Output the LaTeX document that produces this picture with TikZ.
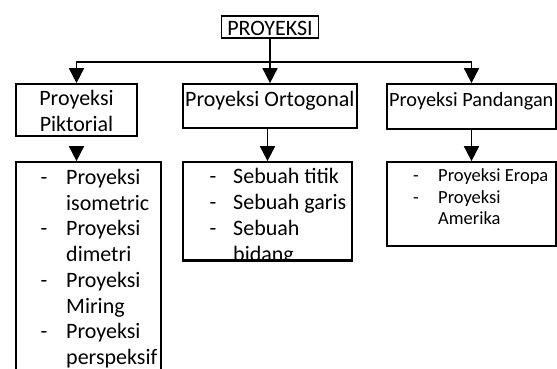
\documentclass[tikz,border=0pt]{standalone}
\usepackage{fontspec}
\setmainfont{Carlito}
\usetikzlibrary{arrows.meta}
\begin{document}
\begin{tikzpicture}[x=1pt,y=-1pt,
  box/.style={draw,line width=1.7pt,inner sep=0pt,minimum width=#1},
  conn/.style={line width=1.7pt},
  arr/.style={line width=1.7pt,-{Triangle[width=15pt,length=15pt]}},
  big/.style={inner sep=0pt,font=\fontsize{22}{26}\selectfont},
  small/.style={inner sep=0pt,font=\fontsize{18.5}{22}\selectfont}]
\clip (0,0) rectangle (557,368);
\fill[white] (0,0) rectangle (557,368);
% boxes
\node[box=97pt,minimum height=22pt] (root) at (270,27) {};
\node[box=121pt,minimum height=52pt] (pt) at (76.5,110) {};
\node[box=174pt,minimum height=44pt] (ot) at (270,106) {};
\node[box=169pt,minimum height=45pt] (pd) at (471.5,106.5) {};
\node[box=145pt,minimum height=228pt] (pl) at (88.5,276) {};
\node[box=169pt,minimum height=98pt] (ol) at (267.5,211) {};
\node[box=169pt,minimum height=84pt] (dl) at (471.5,204) {};
% connectors
\coordinate (bar) at (270,62);
\draw[conn] (root.south) -- (bar);
\draw[arr] (bar) -| (pt.north);
\draw[arr] (bar) -| (pd.north);
\draw[arr] (bar) -- (ot.north);
\draw[arr] ([yshift=-10pt]pt.south) -- (pt.south |- pl.north);
\draw[arr] (ot.south -| ol.north) -- (ol.north);
\draw[arr] (pd.south) -- (dl.north);
% texts
\node[big,anchor=base] (t0) at (270,35) {PROYEKSI};
\node[big,anchor=base] (t1) at (76.5,105) {Proyeksi};
\node[big,anchor=base] (t2) at (76.5,131) {Piktorial};
\node[big,anchor=base west] (t3) at (185,106) {Proyeksi Ortogonal};
\node[big,anchor=base west,font=\fontsize{20.3}{26}\selectfont] (t4) at (389,106) {Proyeksi Pandangan};
% pictorial list
\foreach \y/\t in {184.5/Proyeksi, 210.2/isometric, 235.9/Proyeksi, 261.6/dimetri, 287.3/Proyeksi, 313/Miring, 338.7/Proyeksi, 364.4/perspeksif}
  \node[big,anchor=base west] at (66,\y) {\t};
\foreach \y in {184.5, 235.9, 287.3, 338.7}
  \node[big,anchor=base] at (44,\y) {-};
% ortogonal list
\begin{scope}
\clip (ol.north west) rectangle (ol.south east);
\foreach \y/\t in {183/Sebuah titik, 209/Sebuah garis, 235/Sebuah, 261/bidang}
  \node[big,anchor=base west] at (233,\y) {\t};
\foreach \y in {183, 209, 235}
  \node[big,anchor=base] at (213,\y) {-};
\end{scope}
\draw[line width=1.7pt] (ol.south west) -- (ol.south east);
% pandangan list
\foreach \y/\t in {181.7/Proyeksi Eropa, 203/Proyeksi, 224/Amerika}
  \node[small,anchor=base west] at (438,\y) {\t};
\foreach \y in {181.7, 203}
  \node[small,anchor=base] at (416,\y) {-};
\end{tikzpicture}
\end{document}
